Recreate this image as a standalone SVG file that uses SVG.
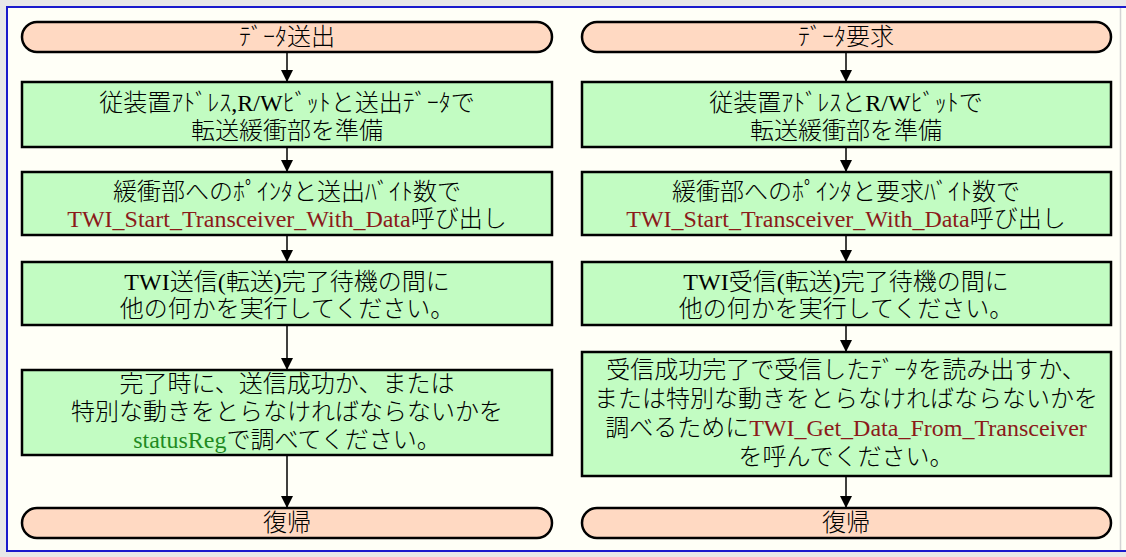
<svg xmlns="http://www.w3.org/2000/svg" width="1126" height="557" viewBox="0 0 1126 557">
<defs>
<style>
.term{fill:#ffd9c2;stroke:#000;stroke-width:2.5}
.box{fill:#c2fcc2;stroke:#000;stroke-width:2.5}
.t{font-family:"Liberation Serif","Noto Sans CJK JP",serif;font-size:24px;font-weight:300;fill:#000;text-anchor:middle}
.fn{fill:#8b1a1a}
.st{fill:#1f8a1f}
.conn{stroke:#000;stroke-width:1.5;fill:none}
</style>
<marker id="ah" markerWidth="12" markerHeight="14" refX="11" refY="6" orient="auto" markerUnits="userSpaceOnUse">
<path d="M0,0 L12,6 L0,12 Z" fill="#000"/>
</marker>
</defs>
<rect x="0" y="0" width="1126" height="557" fill="#e8e8e8"/>
<rect x="7" y="7" width="1125" height="544" fill="#fffff7" stroke="#1a1acc" stroke-width="2"/>
<line x1="1120.5" y1="8" x2="1120.5" y2="550" stroke="#d4d4d4" stroke-width="1.5"/>

<g id="connectors">
<line class="conn" x1="287" y1="52" x2="287" y2="81" marker-end="url(#ah)"/>
<line class="conn" x1="287" y1="147" x2="287" y2="171" marker-end="url(#ah)"/>
<line class="conn" x1="287" y1="235" x2="287" y2="261" marker-end="url(#ah)"/>
<line class="conn" x1="287" y1="325" x2="287" y2="369" marker-end="url(#ah)"/>
<line class="conn" x1="287" y1="455" x2="287" y2="507" marker-end="url(#ah)"/>
<line class="conn" x1="846" y1="52" x2="846" y2="81" marker-end="url(#ah)"/>
<line class="conn" x1="846" y1="147" x2="846" y2="171" marker-end="url(#ah)"/>
<line class="conn" x1="846" y1="235" x2="846" y2="261" marker-end="url(#ah)"/>
<line class="conn" x1="846" y1="325" x2="846" y2="351" marker-end="url(#ah)"/>
<line class="conn" x1="846" y1="476" x2="846" y2="507" marker-end="url(#ah)"/>
</g>

<g id="send-start">
<rect class="term" x="22" y="22" width="530" height="30" rx="15"/>
<text class="t" x="287" y="45">ﾃﾞｰﾀ送出</text>
</g>
<g id="send-prep">
<rect class="box" x="22" y="82" width="530" height="65"/>
<text class="t" x="287" y="111">従装置ｱﾄﾞﾚｽ,R/Wﾋﾞｯﾄと送出ﾃﾞｰﾀで</text>
<text class="t" x="287" y="139">転送緩衝部を準備</text>
</g>
<g id="send-call">
<rect class="box" x="22" y="172" width="530" height="63"/>
<text class="t" x="287" y="200">緩衝部へのﾎﾟｲﾝﾀと送出ﾊﾞｲﾄ数で</text>
<text class="t" x="287" y="227"><tspan class="fn">TWI_Start_Transceiver_With_Data</tspan>呼び出し</text>
</g>
<g id="send-wait">
<rect class="box" x="22" y="262" width="530" height="63"/>
<text class="t" x="287" y="290">TWI送信(転送)完了待機の間に</text>
<text class="t" x="287" y="317">他の何かを実行してください。</text>
</g>
<g id="send-check">
<rect class="box" x="22" y="370" width="530" height="85"/>
<text class="t" x="287" y="392">完了時に、送信成功か、または</text>
<text class="t" x="287" y="420">特別な動きをとらなければならないかを</text>
<text class="t" x="287" y="448"><tspan class="st">statusReg</tspan>で調べてください。</text>
</g>
<g id="send-end">
<rect class="term" x="22" y="508" width="530" height="30" rx="15"/>
<text class="t" x="287" y="531">復帰</text>
</g>

<g id="req-start">
<rect class="term" x="582" y="22" width="529" height="30" rx="15"/>
<text class="t" x="846" y="45">ﾃﾞｰﾀ要求</text>
</g>
<g id="req-prep">
<rect class="box" x="582" y="82" width="529" height="65"/>
<text class="t" x="846" y="111">従装置ｱﾄﾞﾚｽとR/Wﾋﾞｯﾄで</text>
<text class="t" x="846" y="139">転送緩衝部を準備</text>
</g>
<g id="req-call">
<rect class="box" x="582" y="172" width="529" height="63"/>
<text class="t" x="846" y="200">緩衝部へのﾎﾟｲﾝﾀと要求ﾊﾞｲﾄ数で</text>
<text class="t" x="846" y="227"><tspan class="fn">TWI_Start_Transceiver_With_Data</tspan>呼び出し</text>
</g>
<g id="req-wait">
<rect class="box" x="582" y="262" width="529" height="63"/>
<text class="t" x="846" y="290">TWI受信(転送)完了待機の間に</text>
<text class="t" x="846" y="317">他の何かを実行してください。</text>
</g>
<g id="req-read">
<rect class="box" x="582" y="352" width="529" height="124"/>
<text class="t" x="846" y="378">受信成功完了で受信したﾃﾞｰﾀを読み出すか、</text>
<text class="t" x="846" y="407">または特別な動きをとらなければならないかを</text>
<text class="t" x="846" y="436">調べるために<tspan class="fn">TWI_Get_Data_From_Transceiver</tspan></text>
<text class="t" x="846" y="465">を呼んでください。</text>
</g>
<g id="req-end">
<rect class="term" x="582" y="508" width="529" height="30" rx="15"/>
<text class="t" x="846" y="531">復帰</text>
</g>
</svg>
